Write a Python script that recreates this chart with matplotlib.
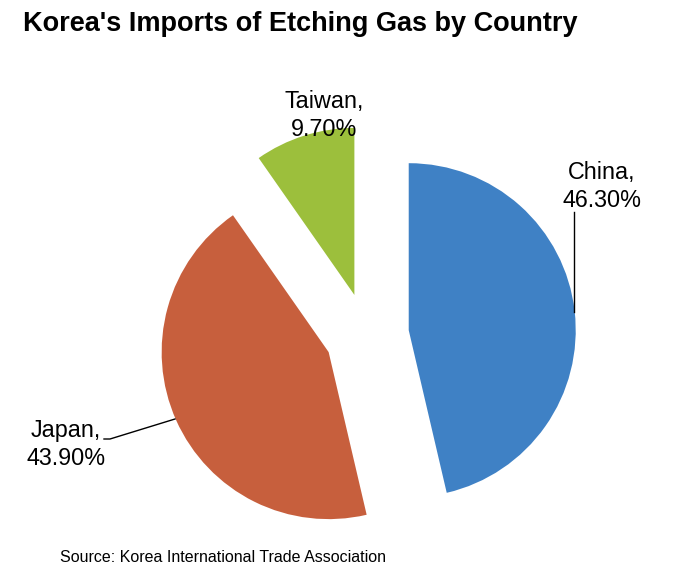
import matplotlib
matplotlib.use("Agg")
import matplotlib.pyplot as plt

countries = ["China", "Japan", "Taiwan"]
shares = [46.3, 43.9, 9.7]
colors = ["#3F81C5", "#C75F3D", "#9CBF3C"]

title = "Korea's Imports of Etching Gas by Country"
source = "Source: Korea International Trade Association"

W, H = 693, 573
fig = plt.figure(figsize=(W / 100, H / 100), dpi=100)
ax = fig.add_axes([0, 0, 1, 1])

# pixel-like coordinates, y measured up from the bottom
cx, cy, r = 367, H - 335, 167
ax.pie(shares, colors=colors, startangle=90, counterclock=False,
       explode=[42] * len(shares), center=(cx, cy), radius=r,
       wedgeprops=dict(linewidth=0))
ax.set_xlim(0, W)
ax.set_ylim(0, H)
ax.set_aspect("equal")
ax.axis("off")

# label positions (x centre, baseline of first line) in image pixels
label_pos = {"China": (602, 179), "Japan": (66, 437), "Taiwan": (324, 108)}
for name, val in zip(countries, shares):
    x, y = label_pos[name]
    ax.text(x, H - y, name + ",", ha="center", va="baseline",
            fontsize=16.8, family="Liberation Sans")
    ax.text(x, H - y - 28, "%.2f%%" % val, ha="center", va="baseline",
            fontsize=16.8, family="Liberation Sans")

# leader lines
ax.plot([574, 574], [H - 212, H - 312], color="black", lw=1)
ax.plot([104, 110, 175], [H - 439, H - 439, H - 419], color="black", lw=1)

ax.text(23, H - 31, title, ha="left", va="baseline", fontsize=19.5,
        fontweight="bold", family="Liberation Sans")
ax.text(60, H - 562, source, ha="left", va="baseline", fontsize=11.5,
        family="Liberation Sans")

fig.savefig("out.png", dpi=100)
